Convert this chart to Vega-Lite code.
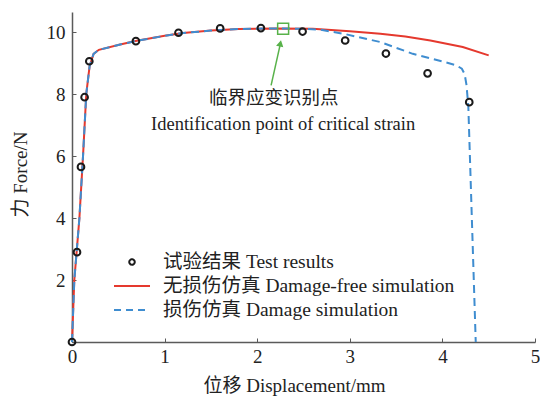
{
  "$schema": "https://vega.github.io/schema/vega-lite/v6.json",
  "autosize": {"type": "none"},
  "width": 463,
  "height": 330,
  "padding": {"left": 72, "top": 12, "right": 5, "bottom": 58},
  "background": "white",
  "config": {
    "font": "Liberation Serif, Noto Sans CJK SC",
    "view": {"stroke": null},
    "axis": {
      "grid": false,
      "domainColor": "#5a5a5a",
      "domainWidth": 1.5,
      "tickColor": "#5a5a5a",
      "tickSize": -4,
      "labelFont": "Liberation Serif",
      "labelFontSize": 19,
      "labelColor": "#222222",
      "labelFlush": false,
      "titleFont": "Liberation Serif, Noto Sans CJK SC",
      "titleFontSize": 19,
      "titleFontWeight": "normal",
      "titleColor": "#222222"
    }
  },
  "datasets": {
    "test": [
      {"disp": 0.0, "force": 0.0, "series": "试验结果 Test results"},
      {"disp": 0.054, "force": 2.9, "series": "试验结果 Test results"},
      {"disp": 0.097, "force": 5.65, "series": "试验结果 Test results"},
      {"disp": 0.136, "force": 7.9, "series": "试验结果 Test results"},
      {"disp": 0.187, "force": 9.06, "series": "试验结果 Test results"},
      {"disp": 0.69, "force": 9.71, "series": "试验结果 Test results"},
      {"disp": 1.15, "force": 9.98, "series": "试验结果 Test results"},
      {"disp": 1.6, "force": 10.12, "series": "试验结果 Test results"},
      {"disp": 2.04, "force": 10.13, "series": "试验结果 Test results"},
      {"disp": 2.49, "force": 10.02, "series": "试验结果 Test results"},
      {"disp": 2.95, "force": 9.73, "series": "试验结果 Test results"},
      {"disp": 3.39, "force": 9.31, "series": "试验结果 Test results"},
      {"disp": 3.84, "force": 8.67, "series": "试验结果 Test results"},
      {"disp": 4.29, "force": 7.74, "series": "试验结果 Test results"}
    ],
    "free": [
      {"disp": 0.0, "force": 0.0, "series": "无损伤仿真 Damage-free simulation"},
      {"disp": 0.025, "force": 2.0, "series": "无损伤仿真 Damage-free simulation"},
      {"disp": 0.08, "force": 4.0, "series": "无损伤仿真 Damage-free simulation"},
      {"disp": 0.119, "force": 6.0, "series": "无损伤仿真 Damage-free simulation"},
      {"disp": 0.154, "force": 8.0, "series": "无损伤仿真 Damage-free simulation"},
      {"disp": 0.19, "force": 8.9, "series": "无损伤仿真 Damage-free simulation"},
      {"disp": 0.233, "force": 9.3, "series": "无损伤仿真 Damage-free simulation"},
      {"disp": 0.29, "force": 9.43, "series": "无损伤仿真 Damage-free simulation"},
      {"disp": 0.52, "force": 9.6, "series": "无损伤仿真 Damage-free simulation"},
      {"disp": 0.7, "force": 9.72, "series": "无损伤仿真 Damage-free simulation"},
      {"disp": 1.0, "force": 9.88, "series": "无损伤仿真 Damage-free simulation"},
      {"disp": 1.2, "force": 9.97, "series": "无损伤仿真 Damage-free simulation"},
      {"disp": 1.5, "force": 10.05, "series": "无损伤仿真 Damage-free simulation"},
      {"disp": 1.8, "force": 10.1, "series": "无损伤仿真 Damage-free simulation"},
      {"disp": 2.2, "force": 10.12, "series": "无损伤仿真 Damage-free simulation"},
      {"disp": 2.6, "force": 10.11, "series": "无损伤仿真 Damage-free simulation"},
      {"disp": 3.0, "force": 10.03, "series": "无损伤仿真 Damage-free simulation"},
      {"disp": 3.33, "force": 9.95, "series": "无损伤仿真 Damage-free simulation"},
      {"disp": 3.6, "force": 9.86, "series": "无损伤仿真 Damage-free simulation"},
      {"disp": 3.87, "force": 9.73, "series": "无损伤仿真 Damage-free simulation"},
      {"disp": 4.22, "force": 9.52, "series": "无损伤仿真 Damage-free simulation"},
      {"disp": 4.5, "force": 9.25, "series": "无损伤仿真 Damage-free simulation"}
    ],
    "damage": [
      {"disp": 0.0, "force": 0.0, "series": "损伤仿真 Damage simulation"},
      {"disp": 0.025, "force": 2.0, "series": "损伤仿真 Damage simulation"},
      {"disp": 0.08, "force": 4.0, "series": "损伤仿真 Damage simulation"},
      {"disp": 0.119, "force": 6.0, "series": "损伤仿真 Damage simulation"},
      {"disp": 0.154, "force": 8.0, "series": "损伤仿真 Damage simulation"},
      {"disp": 0.19, "force": 8.9, "series": "损伤仿真 Damage simulation"},
      {"disp": 0.233, "force": 9.3, "series": "损伤仿真 Damage simulation"},
      {"disp": 0.29, "force": 9.43, "series": "损伤仿真 Damage simulation"},
      {"disp": 0.52, "force": 9.6, "series": "损伤仿真 Damage simulation"},
      {"disp": 0.7, "force": 9.72, "series": "损伤仿真 Damage simulation"},
      {"disp": 1.0, "force": 9.88, "series": "损伤仿真 Damage simulation"},
      {"disp": 1.2, "force": 9.97, "series": "损伤仿真 Damage simulation"},
      {"disp": 1.5, "force": 10.05, "series": "损伤仿真 Damage simulation"},
      {"disp": 1.8, "force": 10.1, "series": "损伤仿真 Damage simulation"},
      {"disp": 2.2, "force": 10.12, "series": "损伤仿真 Damage simulation"},
      {"disp": 2.5, "force": 10.11, "series": "损伤仿真 Damage simulation"},
      {"disp": 2.68, "force": 10.08, "series": "损伤仿真 Damage simulation"},
      {"disp": 2.96, "force": 9.93, "series": "损伤仿真 Damage simulation"},
      {"disp": 3.33, "force": 9.68, "series": "损伤仿真 Damage simulation"},
      {"disp": 3.68, "force": 9.3, "series": "损伤仿真 Damage simulation"},
      {"disp": 4.03, "force": 9.03, "series": "损伤仿真 Damage simulation"},
      {"disp": 4.15, "force": 8.93, "series": "损伤仿真 Damage simulation"},
      {"disp": 4.21, "force": 8.82, "series": "损伤仿真 Damage simulation"},
      {"disp": 4.24, "force": 8.65, "series": "损伤仿真 Damage simulation"},
      {"disp": 4.26, "force": 8.3, "series": "损伤仿真 Damage simulation"},
      {"disp": 4.28, "force": 7.6, "series": "损伤仿真 Damage simulation"},
      {"disp": 4.36, "force": 0.0, "series": "损伤仿真 Damage simulation"}
    ],
    "crit": [{"disp": 2.28, "force": 10.11}],
    "arrow": [{"disp": 2.15, "force": 8.28, "disp2": 2.25, "force2": 9.62}],
    "head": [{"disp": 2.25, "force": 9.64}],
    "notes": [
      {"disp": 2.18, "force": 7.86, "lang": "zh", "text": "临界应变识别点"},
      {"disp": 2.28, "force": 7.02, "lang": "en", "text": "Identification point of critical strain"}
    ]
  },
  "layer": [
    {
      "data": {"name": "free"},
      "mark": {"type": "line", "strokeWidth": 2},
      "encoding": {
        "x": {"field": "disp", "type": "quantitative", "scale": {"domain": [0, 5], "nice": false},
          "axis": {"values": [0, 1, 2, 3, 4, 5], "format": "d", "title": "位移 Displacement/mm", "labelPadding": 9, "titlePadding": 10, "titleX": 222}},
        "y": {"field": "force", "type": "quantitative", "scale": {"domain": [0, 10.65], "nice": false, "zero": false},
          "axis": {"values": [0, 2, 4, 6, 8, 10], "format": "d", "labelExpr": "datum.value == 0 ? '' : datum.label", "title": "力 Force/N", "labelPadding": 11, "titlePadding": 16, "titleY": 162}},
        "color": {
          "field": "series", "type": "nominal",
          "scale": {"domain": ["试验结果 Test results", "无损伤仿真 Damage-free simulation", "损伤仿真 Damage simulation"],
                    "range": ["#1a1a1a", "#e5392e", "#3f8dd0"]},
          "legend": {
            "orient": "none", "legendX": 41, "legendY": 239.5, "title": null,
            "labelFont": "Liberation Serif, Noto Sans CJK SC", "labelFontSize": 19.5, "labelColor": "#222222",
            "labelLimit": 450, "symbolSize": 1296, "clipHeight": 21, "rowPadding": 3, "labelOffset": 12,
            "encode": {
              "symbols": {
                "update": {
                  "shape": {"signal": "datum.index == 0 ? 'circle' : 'stroke'"},
                  "size": {"signal": "datum.index == 0 ? 30 : 1296"},
                  "stroke": {"signal": "datum.index == 0 ? '#1a1a1a' : (datum.index == 1 ? '#e5392e' : '#3f8dd0')"},
                  "strokeDash": {"signal": "datum.index == 2 ? [7, 5] : [1, 0]"},
                  "strokeWidth": {"value": 2},
                  "fill": {"value": "transparent"},
                  "opacity": {"value": 1}
                }
              }
            }
          }
        }
      }
    },
    {
      "data": {"name": "damage"},
      "mark": {"type": "line", "strokeWidth": 2, "strokeDash": [8, 5]},
      "encoding": {
        "x": {"field": "disp", "type": "quantitative"},
        "y": {"field": "force", "type": "quantitative"},
        "color": {"field": "series", "type": "nominal"}
      }
    },
    {
      "data": {"name": "test"},
      "mark": {"type": "point", "filled": false, "size": 45, "strokeWidth": 2, "opacity": 1},
      "encoding": {
        "x": {"field": "disp", "type": "quantitative"},
        "y": {"field": "force", "type": "quantitative"},
        "color": {"field": "series", "type": "nominal"}
      }
    },
    {
      "data": {"name": "crit"},
      "mark": {"type": "point", "shape": "square", "filled": false, "size": 120, "strokeWidth": 1.5, "color": "#58b24a", "opacity": 1},
      "encoding": {
        "x": {"field": "disp", "type": "quantitative"},
        "y": {"field": "force", "type": "quantitative"}
      }
    },
    {
      "data": {"name": "arrow"},
      "mark": {"type": "rule", "strokeWidth": 1.5, "color": "#58b24a"},
      "encoding": {
        "x": {"field": "disp", "type": "quantitative"},
        "y": {"field": "force", "type": "quantitative"},
        "x2": {"field": "disp2"},
        "y2": {"field": "force2"}
      }
    },
    {
      "data": {"name": "head"},
      "mark": {"type": "point", "shape": "triangle-up", "filled": true, "size": 55, "angle": 12, "color": "#58b24a", "opacity": 1},
      "encoding": {
        "x": {"field": "disp", "type": "quantitative"},
        "y": {"field": "force", "type": "quantitative"}
      }
    },
    {
      "data": {"name": "notes"},
      "transform": [{"filter": "datum.lang == 'zh'"}],
      "mark": {"type": "text", "fontSize": 18.5, "font": "Noto Sans CJK SC", "color": "#222222"},
      "encoding": {
        "x": {"field": "disp", "type": "quantitative"},
        "y": {"field": "force", "type": "quantitative"},
        "text": {"field": "text"}
      }
    },
    {
      "data": {"name": "notes"},
      "transform": [{"filter": "datum.lang == 'en'"}],
      "mark": {"type": "text", "fontSize": 18.5, "font": "Liberation Serif", "color": "#222222"},
      "encoding": {
        "x": {"field": "disp", "type": "quantitative"},
        "y": {"field": "force", "type": "quantitative"},
        "text": {"field": "text"}
      }
    }
  ]
}
